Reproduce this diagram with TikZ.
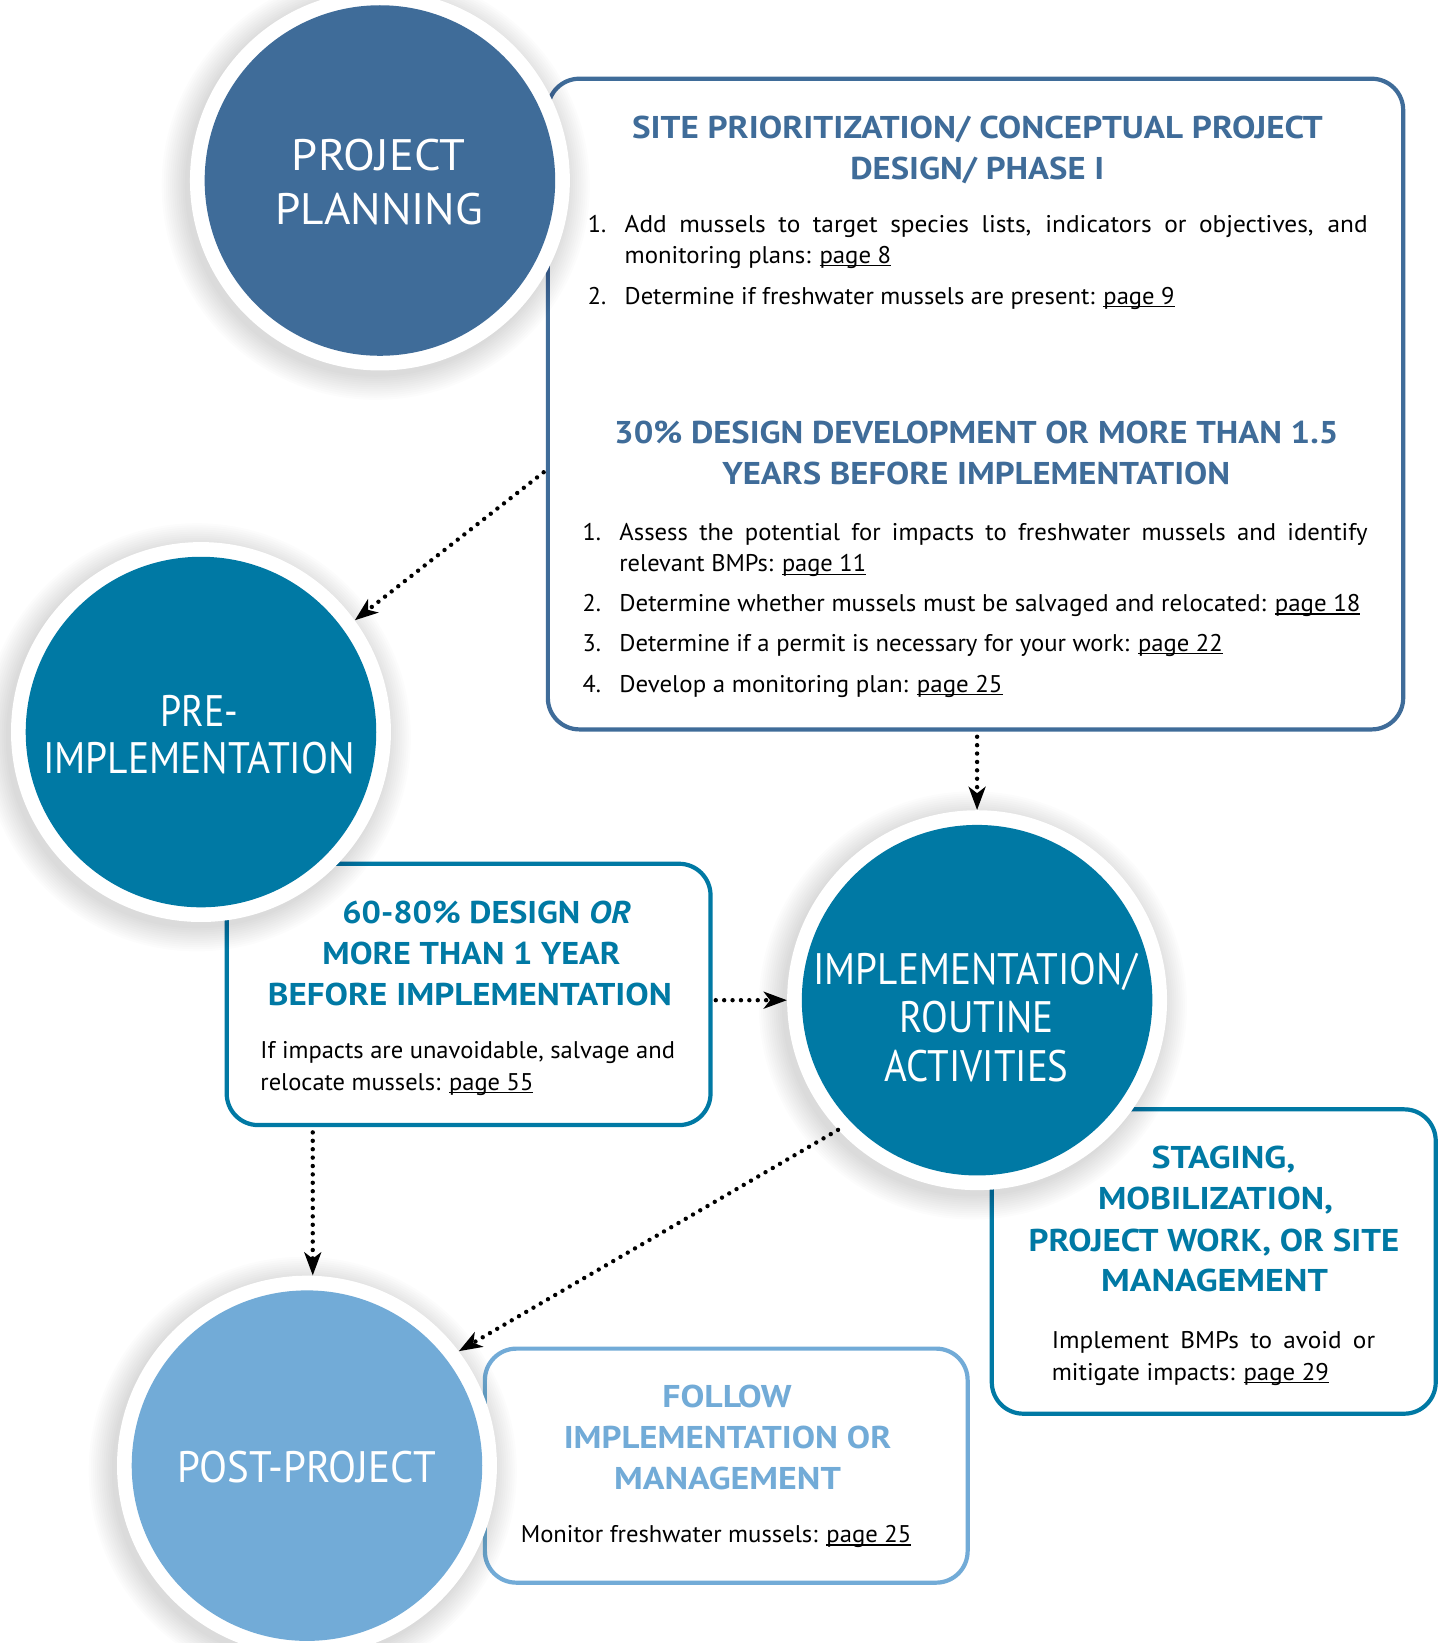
\documentclass[tikz,border=0pt]{standalone}
\usepackage{fontspec}
\setmainfont{PT Sans}
\usepackage{graphicx}
\usetikzlibrary{arrows.meta}
\definecolor{cplan}{HTML}{3F6C99}
\definecolor{cteal}{HTML}{0079A4}
\definecolor{clight}{HTML}{72ABD7}
\newcommand\fitw[2]{\resizebox{#1pt}{\height}{#2}}
\newcommand\jfit[3]{\setbox2\hbox{#3}\resizebox{#1pt}{\height}{\makebox[#2\wd2][s]{#3}}}
\newcommand\pg[1]{\setbox0\hbox{#1}\rlap{\rule[-2.6pt]{\wd0}{1.1pt}}\box0}
\begin{document}
\begin{tikzpicture}[x=1pt,y=-1pt,
  phasebox/.style={draw=#1, line width=4pt, rounded corners=30pt, inner sep=0, fill=white},
  ring/.style={circle, fill=white, minimum size=362pt, inner sep=0},
  ctext/.style={text=white, font=\fontsize{42}{50}\selectfont, anchor=base west, inner sep=0},
  htext/.style={text=#1, font=\bfseries\fontsize{30}{36}\selectfont, anchor=base west, inner sep=0},
  btext/.style={text=black, font=\fontsize{23}{28}\selectfont, anchor=base west, inner sep=0},
  conn/.style={line width=4.2pt, dash pattern=on 0pt off 8pt, line cap=round,
    -{Stealth[length=22pt,width=16pt,inset=6pt]}}]
\useasboundingbox (0,0) rectangle (1375,1565.5);
\fill[white] (0,0) rectangle (1375,1565.5);

% boxes
\node[phasebox=cplan, minimum width=815pt, minimum height=620pt] (box1) at (929.5,385) {};
\node[phasebox=cteal, minimum width=461pt, minimum height=249pt] (box2) at (446.5,947.5) {};
\node[phasebox=cteal, minimum width=423pt, minimum height=290pt] (box3) at (1156.5,1202) {};
\node[phasebox=clight, minimum width=460pt, minimum height=223pt] (box4) at (692,1396.5) {};

% circles
\newcommand\phasecircle[4]{%
  \foreach \k in {1,...,12} {\fill[black, opacity=0.012] (#2-4,#3+5) circle ({180pt+\k*2pt});}
  \node[ring] (#1) at (#2,#3) {};
  \fill[#4] (#2,#3) circle (167pt);
}
\phasecircle{plan}{362}{172}{cplan}
\phasecircle{pre}{191.5}{697.5}{cteal}
\phasecircle{impl}{931}{953}{cteal}
\phasecircle{post}{292.5}{1396.5}{clight}

% circle texts
\node[ctext] (c1) at (278,162) {\fitw{165}{PROJECT}};
\node[ctext] (c2) at (262,214) {\fitw{198}{PLANNING}};
\node[ctext] (c3) at (153,692) {\fitw{74}{PRE-}};
\node[ctext] (c4) at (41,737) {\fitw{297}{IMPLEMENTATION}};
\node[ctext] (c5) at (775,938) {\fitw{308}{IMPLEMENTATION/}};
\node[ctext] (c6) at (857,984) {\fitw{147}{ROUTINE}};
\node[ctext] (c7) at (843,1030) {\fitw{175}{ACTIVITIES}};
\node[ctext] (c8) at (169,1413) {\fitw{246}{POST-PROJECT}};

% box 1
\node[htext=cplan] (h1) at (602,132) {\fitw{658}{SITE PRIORITIZATION/ CONCEPTUAL PROJECT}};
\node[htext=cplan] (h2) at (810,171) {\fitw{242}{DESIGN/ PHASE I}};
\node[btext] (n1) at (560,222) {1.};
\node[btext] (b1) at (595,222) {\jfit{708}{1.08}{Add mussels to target species lists, indicators or objectives, and}};
\node[btext] (b2) at (595,251) {\fitw{254}{monitoring plans: \pg{page 8}}};
\node[btext] (n2) at (560,290) {2.};
\node[btext] (b3) at (595,290) {\fitw{524}{Determine if freshwater mussels are present: \pg{page 9}}};
\node[htext=cplan] (h3) at (585,423) {\fitw{690}{30\% DESIGN DEVELOPMENT OR MORE THAN 1.5}};
\node[htext=cplan] (h4) at (688,462) {\fitw{484}{YEARS BEFORE IMPLEMENTATION}};
\node[btext] (n3) at (555,515) {1.};
\node[btext] (b4) at (590,515) {\jfit{713}{1.06}{Assess the potential for impacts to freshwater mussels and identify}};
\node[btext] (b5) at (590,545) {\fitw{235}{relevant BMPs: \pg{page 11}}};
\node[btext] (n4) at (555,583) {2.};
\node[btext] (b6) at (590,583) {\fitw{706}{Determine whether mussels must be salvaged and relocated: \pg{page 18}}};
\node[btext] (n5) at (555,621) {3.};
\node[btext] (b7) at (590,621) {\fitw{575}{Determine if a permit is necessary for your work: \pg{page 22}}};
\node[btext] (n6) at (555,660) {4.};
\node[btext] (b8) at (590,660) {\fitw{365}{Develop a monitoring plan: \pg{page 25}}};

% box 2
\node[htext=cteal] (h5) at (326,880) {\fitw{275}{60-80\% DESIGN \textit{OR}}};
\node[htext=cteal] (h6) at (307,919) {\fitw{284}{MORE THAN 1 YEAR}};
\node[htext=cteal] (h7) at (255,958) {\fitw{385}{BEFORE IMPLEMENTATION}};
\node[btext] (b9) at (248,1009) {\fitw{395}{If impacts are unavoidable, salvage and}};
\node[btext] (b10) at (248,1039) {\fitw{260}{relocate mussels: \pg{page 55}}};

% box 3
\node[htext=cteal] (h8) at (1097,1113) {\fitw{137}{STAGING,}};
\node[htext=cteal] (h9) at (1046,1152) {\fitw{224}{MOBILIZATION,}};
\node[htext=cteal] (h10) at (980,1192) {\fitw{353}{PROJECT WORK, OR SITE}};
\node[htext=cteal] (h11) at (1049,1231) {\fitw{216}{MANAGEMENT}};
\node[btext] (b11) at (1002,1285) {\jfit{308}{1.06}{Implement BMPs to avoid or}};
\node[btext] (b12) at (1002,1315) {\fitw{264}{mitigate impacts: \pg{page 29}}};

% box 4
\node[htext=clight] (h12) at (631,1341) {\fitw{123}{FOLLOW}};
\node[htext=clight] (h13) at (537,1380) {\fitw{312}{IMPLEMENTATION OR}};
\node[htext=clight] (h14) at (585,1419) {\fitw{216}{MANAGEMENT}};
\node[btext] (b13) at (496,1470) {\fitw{372}{Monitor freshwater mussels: \pg{page 25}}};

% connectors
\coordinate (a1s) at (518,450);
\coordinate (a4s) at (298,1079);
\draw[conn] (a1s) -- (pre.36);
\draw[conn] (box1.south -| impl.north) ++(0,5) -- (impl.north);
\draw[conn] (box2.east |- impl.west) ++(3,0) -- (impl.west);
\draw[conn] (a4s) -- (a4s |- post.north);
\draw[conn] (impl.223) -- (post.37);
\end{tikzpicture}
\end{document}
